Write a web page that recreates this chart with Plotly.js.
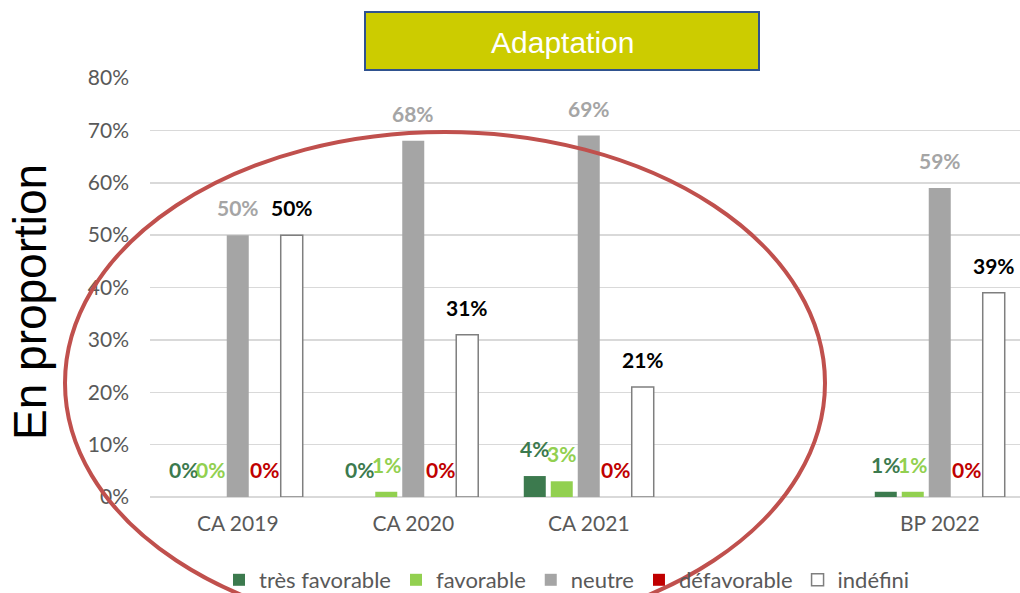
<!DOCTYPE html>
<html>
<head>
<meta charset="utf-8">
<script src="https://cdn.plot.ly/plotly-3.0.1.min.js"></script>
<style>html,body{margin:0;padding:0;background:#fff;}#chart{width:1020px;height:593px;}</style>
</head>
<body>
<div id="chart"></div>
<script>
const categories = ['CA 2019', 'CA 2020', 'CA 2021', ' ', 'BP 2022'];
const seriesNames = ['très favorable', 'favorable', 'neutre', 'défavorable', 'indéfini'];
const tresFavorable = [0, 0, 4, null, 1];
const favorable = [0, 1, 3, null, 1];
const neutre = [50, 68, 69, null, 59];
const defavorable = [0, 0, 0, null, 0];
const indefini = [50, 31, 21, null, 39];
const chartTitle = 'Adaptation';
const yTitle = 'En proportion';

const seriesValues = [tresFavorable, favorable, neutre, defavorable, indefini];
const fillColors = ['#3c7a4e', '#92d050', '#a5a5a5', '#c00000', '#ffffff'];
const lineColors = ['#3c7a4e', '#92d050', '#a5a5a5', '#c00000', '#7f7f7f'];
const labelColors = ['#3c7a4e', '#92d050', '#a5a5a5', '#c00000', '#000000'];

const traces = seriesValues.map((vals, i) => ({
  type: 'bar',
  name: seriesNames[i],
  x: categories,
  y: vals,
  marker: {color: fillColors[i], line: {color: lineColors[i], width: i === 4 ? 1.5 : 0}},
  hoverinfo: 'x+y+name'
}));

// plot area in pixels
const L = 150, T = 78, W = 870, H = 419;
const px = x => (x - L) / W;
const py = y => (T + H - y) / H;

const annotations = [];
const slot = 27; // px between bars within a group
seriesValues.forEach((vals, i) => {
  vals.forEach((v, j) => {
    if (v === null) return;
    annotations.push({
      x: categories[j], y: v, xref: 'x', yref: 'y',
      xshift: (i - 2) * slot, yshift: 13,
      yanchor: 'bottom', xanchor: 'center',
      text: v + '%', showarrow: false,
      font: {family: 'Lato, sans-serif', size: 21, color: labelColors[i], weight: 'bold'}
    });
  });
});
annotations.push({
  xref: 'paper', yref: 'paper', x: px(562), y: py(42),
  text: chartTitle, showarrow: false, xanchor: 'center', yanchor: 'middle',
  font: {family: 'Liberation Sans, Arial, sans-serif', size: 30, color: '#ffffff'}
});
annotations.push({
  xref: 'paper', yref: 'paper', x: px(30), y: py(302),
  text: yTitle, showarrow: false, textangle: -90, xanchor: 'center', yanchor: 'middle',
  font: {family: 'Liberation Sans, Arial, sans-serif', size: 46, color: '#000000'}
});

const shapes = [
  {type: 'rect', xref: 'paper', yref: 'paper', x0: px(365), x1: px(759), y0: py(70), y1: py(12),
   fillcolor: '#cccc00', line: {color: '#2f528f', width: 2}, layer: 'below'},
  {type: 'circle', xref: 'paper', yref: 'paper', x0: px(65), x1: px(825), y0: py(634), y1: py(132),
   line: {color: '#c0504d', width: 4}, layer: 'above'}
];

const layout = {
  width: 1020, height: 593,
  margin: {l: L, r: 0, t: T, b: 593 - T - H, pad: 0, autoexpand: false},
  paper_bgcolor: '#ffffff', plot_bgcolor: '#ffffff',
  barmode: 'group', bargap: 0.231, bargroupgap: 0.185,
  showlegend: true,
  legend: {orientation: 'h', x: px(567), xanchor: 'center', y: py(580), yanchor: 'middle',
    font: {family: 'Lato, sans-serif', size: 22, color: '#595959'}, traceorder: 'normal',
    itemwidth: 30, bgcolor: 'rgba(0,0,0,0)'},
  xaxis: {type: 'category', categoryorder: 'array', categoryarray: categories,
    range: [-0.5, -0.5 + W / 175.5], showgrid: false, showline: false, ticks: '',
    tickfont: {family: 'Lato, sans-serif', size: 21, color: '#595959'}, ticklabelstandoff: 12,
    fixedrange: true},
  yaxis: {range: [0, 80], dtick: 10, tick0: 0, ticksuffix: '%', showgrid: true,
    gridcolor: '#d9d9d9', gridwidth: 1.5, zeroline: true, zerolinecolor: '#d9d9d9', zerolinewidth: 1.5,
    showline: false, ticks: '',
    tickfont: {family: 'Lato, sans-serif', size: 21, color: '#595959'}, ticklabelstandoff: 20,
    fixedrange: true},
  annotations: annotations,
  shapes: shapes
};

Plotly.newPlot('chart', traces, layout, {displayModeBar: false, staticPlot: true});
</script>
</body>
</html>
